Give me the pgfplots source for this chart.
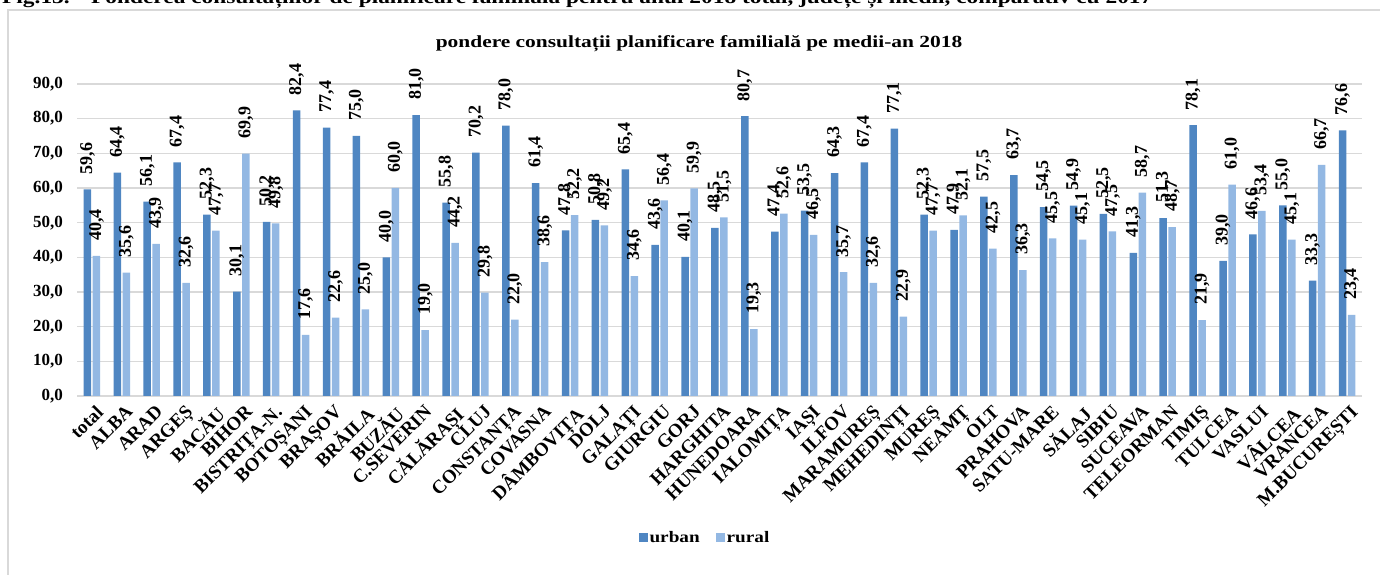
\documentclass[border=0pt]{standalone}
\usepackage{graphicx}
\usepackage{pgfplots}
\pgfplotsset{compat=1.18}
\usepackage{pgfplotstable}
\usepackage{fontspec}
\setmainfont{Liberation Serif}
\definecolor{urb}{HTML}{4F86C2}
\definecolor{rur}{HTML}{93B8E3}
\definecolor{gridc}{HTML}{D9D9D9}
\newcommand{\lf}{\bfseries\fontsize{16}{18}\selectfont}
\newcommand{\sx}[1]{\scalebox{1.2}[1]{#1}}

\pgfplotstableread{
x u r
0 59.6 40.4
1 64.4 35.6
2 56.1 43.9
3 67.4 32.6
4 52.3 47.7
5 30.1 69.9
6 50.2 49.8
7 82.4 17.6
8 77.4 22.6
9 75.0 25.0
10 40.0 60.0
11 81.0 19.0
12 55.8 44.2
13 70.2 29.8
14 78.0 22.0
15 61.4 38.6
16 47.8 52.2
17 50.8 49.2
18 65.4 34.6
19 43.6 56.4
20 40.1 59.9
21 48.5 51.5
22 80.7 19.3
23 47.4 52.6
24 53.5 46.5
25 64.3 35.7
26 67.4 32.6
27 77.1 22.9
28 52.3 47.7
29 47.9 52.1
30 57.5 42.5
31 63.7 36.3
32 54.5 45.5
33 54.9 45.1
34 52.5 47.5
35 41.3 58.7
36 51.3 48.7
37 78.1 21.9
38 39.0 61.0
39 46.6 53.4
40 55.0 45.1
41 33.3 66.7
42 76.6 23.4
}\datatable

\begin{document}
\begin{tikzpicture}[x=1pt,y=1pt]
\path[use as bounding box] (0,0) rectangle (1380,575);
\draw[gridc, line width=1.5pt] (8,0) -- (8,565) -- (1380,565);
\node[anchor=base west, font=\bfseries\fontsize{19}{19}\selectfont, inner sep=0pt] at (2,571) {\scalebox{1.23}[1]{Fig.13. - Ponderea consultațiilor de planificare familială pentru anul 2018 total, județe și medii, comparativ cu 2017}};
\node[anchor=base, font=\bfseries\fontsize{17}{18}\selectfont, inner sep=0pt] at (699,527) {\scalebox{1.26}[1]{pondere consultații planificare familială pe medii-an 2018}};
\begin{axis}[
  at={(77pt,179pt)}, anchor=south west,
  scale only axis, width=1285pt, height=312pt,
  clip=false,
  ybar=1.5pt, bar width=7.5pt,
  ymin=0, ymax=90, ytick={0,10,...,90},
  xmin=-0.5, xmax=42.5, xtick={0,...,42},
  xticklabels={total,ALBA,ARAD,ARGEȘ,BACĂU,BIHOR,BISTRIȚA-N.,BOTOȘANI,BRAȘOV,BRĂILA,BUZĂU,C.SEVERIN,CĂLĂRAȘI,CLUJ,CONSTANȚA,COVASNA,DÂMBOVIȚA,DOLJ,GALAȚI,GIURGIU,GORJ,HARGHITA,HUNEDOARA,IALOMIȚA,IAȘI,ILFOV,MARAMUREȘ,MEHEDINȚI,MUREȘ,NEAMȚ,OLT,PRAHOVA,SATU-MARE,SĂLAJ,SIBIU,SUCEAVA,TELEORMAN,TIMIȘ,TULCEA,VASLUI,VÂLCEA,VRANCEA,M.BUCUREȘTI},
  xticklabel style={xshift=3pt, yshift=-8pt, rotate=45, anchor=north east, font=\bfseries\fontsize{19}{20}\selectfont, inner sep=0pt},
  yticklabel style={font=\bfseries\fontsize{17}{18}\selectfont, inner xsep=0pt, xshift=-14pt},
  /pgf/number format/assume math mode=true,
  yticklabel={\pgfmathprintnumber[fixed,fixed zerofill,precision=1,use comma,1000 sep={}]{\tick}},
  major tick length=0pt,
  axis line style={draw=none},
  ymajorgrids, grid style={gridc, line width=1.5pt},
  nodes near coords={\pgfmathprintnumber[fixed,fixed zerofill,precision=1,use comma,assume math mode=true]{\pgfplotspointmeta}},
  every node near coord/.append style={rotate=90, anchor=west, font=\bfseries\fontsize{18}{18}\selectfont, inner xsep=15pt, inner ysep=0pt, text=black},
  legend style={at={(0.4887,-0.455)}, anchor=center, draw=none, font=\lf, legend columns=2,
    /tikz/every even column/.append style={column sep=14pt}},
  legend image code/.code={\fill[#1] (0pt,-4pt) rectangle (9pt,5pt);},
]
\addplot[fill=urb, draw=none] table[x=x, y=u] {\datatable};
\addplot[fill=rur, draw=none] table[x=x, y=r] {\datatable};
\legend{\sx{urban},\sx{rural}}
\end{axis}
\end{tikzpicture}
\end{document}
